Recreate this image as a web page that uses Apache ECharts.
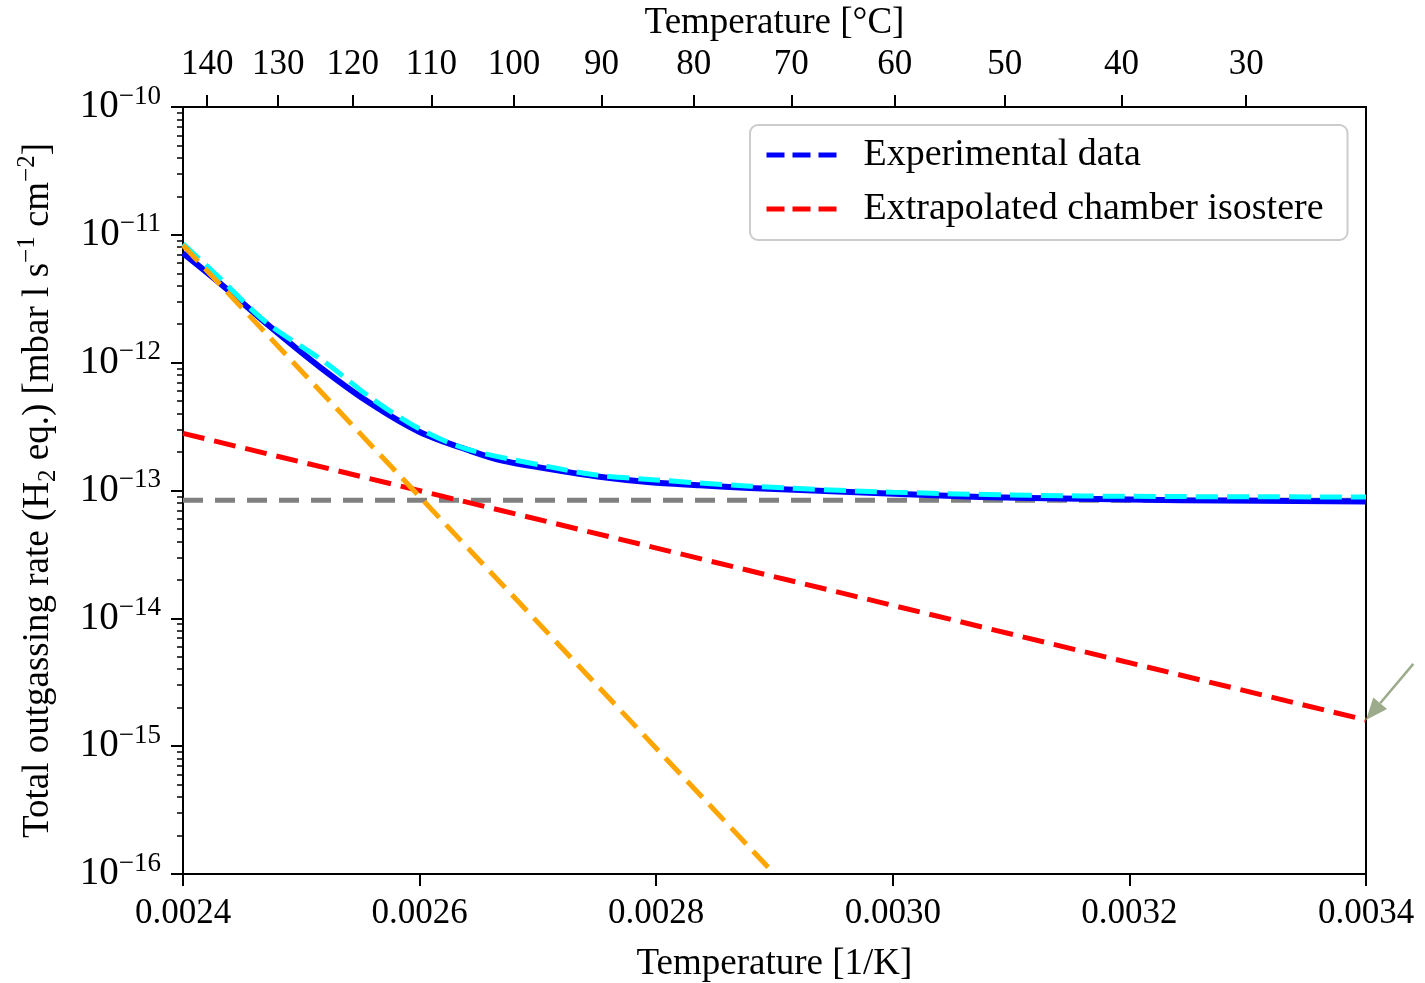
<!DOCTYPE html>
<html>
<head>
<meta charset="utf-8">
<script src="https://cdn.jsdelivr.net/npm/echarts@6/dist/echarts.min.js"></script>
<style>
  html, body { margin: 0; padding: 0; background: #fff; }
  #chart { width: 1425px; height: 983px; }
</style>
</head>
<body>
<div id="chart"></div>
<script>
// ---- data ----
var expX = [0.002400, 0.002431, 0.002474, 0.002516, 0.002558, 0.002600, 0.002643, 0.002668, 0.002710, 0.002752,
  0.002795, 0.002837, 0.002879, 0.002922, 0.003006, 0.003074, 0.003158, 0.003243, 0.003400];
var expY = [7.2e-12, 4.2e-12, 1.9e-12, 9.2e-13, 4.83e-13, 2.87e-13, 2.04e-13, 1.73e-13, 1.47e-13, 1.28e-13,
  1.16e-13, 1.10e-13, 1.045e-13, 1.01e-13, 9.4e-14, 8.9e-14, 8.6e-14, 8.4e-14, 8.2e-14];

// fit (cyan)
var fitX = [0.00240, 0.00243, 0.00247, 0.00252, 0.00256, 0.00260, 0.00264, 0.00271, 0.00275, 0.00280,
  0.00288, 0.00300, 0.00316, 0.00340];
var fitY = [8.5e-12, 4.7e-12, 2.08e-12, 1.01e-12, 5.2e-13, 3.03e-13, 2.11e-13, 1.53e-13, 1.32e-13, 1.21e-13,
  1.08e-13, 9.7e-14, 9.06e-14, 8.9e-14];

// extrapolated chamber isostere (red)
var isoX = [0.0024, 0.0034];
var isoY = [2.8e-13, 1.6e-15];

// orange isostere
var orangeX = [0.0024, 0.0029];
var orangeY = [8.3e-12, 1.0e-16];

// background level (gray)
var bgX = [0.0024, 0.0034];
var bgY = [8.4e-14, 8.4e-14];

// top axis ticks in °C
var celsiusTicks = [140, 130, 120, 110, 100, 90, 80, 70, 60, 50, 40, 30];

// arrow (annotation), start and tip in data coords
var arrowFrom = [0.00344, 4.4e-15];
var arrowTo = [0.0034, 1.6e-15];

var font = 'Liberation Serif';
var textColor = '#000';

function zip(xs, ys) {
  return xs.map(function (x, i) { return [x, ys[i]]; });
}

var topTickPos = celsiusTicks.map(function (c) { return 1 / (c + 273.15); });

// log minor ticks, in log10 space
var minorTicks = [];
for (var n = -16; n < -10; n++) {
  for (var k = 2; k <= 9; k++) minorTicks.push(n + Math.log10(k));
}

var chart = echarts.init(document.getElementById('chart'));

var option = {
  backgroundColor: '#fff',
  animation: false,
  grid: {
    left: 183, right: 59, top: 107, bottom: 109,
    containLabel: false, outerBoundsMode: 'none',
    show: true, borderColor: '#000', borderWidth: 2, backgroundColor: 'transparent'
  },
  legend: {
    left: 750, top: 125,
    orient: 'vertical',
    backgroundColor: '#fff',
    borderColor: '#cccccc', borderWidth: 2, borderRadius: 8,
    padding: [11, 24, 12, 14],
    itemWidth: 70, itemHeight: 14, itemGap: 16,
    itemStyle: { opacity: 0 },
    textStyle: { fontFamily: font, fontSize: 38, color: textColor, padding: [0, 0, 0, 22] },
    data: [
      { name: 'Experimental data', itemStyle: { opacity: 0 }, lineStyle: { type: [18, 8], width: 5 } },
      { name: 'Extrapolated chamber isostere', itemStyle: { opacity: 0 }, lineStyle: { type: [18, 8], width: 5 } }
    ]
  },
  xAxis: [{
    type: 'value',
    position: 'bottom',
    min: 0.0024, max: 0.0034, interval: 0.0002,
    name: 'Temperature [1/K]',
    nameLocation: 'middle', nameGap: 72,
    nameTextStyle: { fontFamily: font, fontSize: 37, color: textColor },
    axisLine: { show: true, lineStyle: { color: '#000', width: 2 } },
    axisTick: { show: true, length: 12, lineStyle: { color: '#000', width: 2 } },
    axisLabel: {
      fontFamily: font, fontSize: 35, color: textColor, margin: 22,
      formatter: function (v) { return v.toFixed(4); }
    },
    splitLine: { show: false }
  }, {
    type: 'value',
    position: 'top',
    min: 0.0024, max: 0.0034,
    name: 'Temperature [°C]',
    nameLocation: 'middle', nameGap: 63,
    nameTextStyle: { fontFamily: font, fontSize: 37, color: textColor },
    axisLine: { show: true, lineStyle: { color: '#000', width: 2 } },
    axisTick: { show: true, length: 12, customValues: topTickPos, lineStyle: { color: '#000', width: 2 } },
    axisLabel: {
      fontFamily: font, fontSize: 35, color: textColor, margin: 25,
      customValues: topTickPos,
      formatter: function (v) { return String(Math.round(1 / v - 273.15)); }
    },
    splitLine: { show: false }
  }],
  yAxis: [{
    type: 'log',
    logBase: 10,
    min: 1e-16, max: 1e-10,
    name: '{t|Total outgassing rate (H}{sub|2}{t| eq.) [mbar l s}{sup|−1}{t| cm}{sup|−2}{t|]}',
    nameLocation: 'middle', nameGap: 122, nameRotate: 90,
    nameTextStyle: {
      fontFamily: font, fontSize: 37, color: textColor,
      rich: {
        t: { fontFamily: font, fontSize: 37, color: textColor, lineHeight: 46 },
        sub: { fontFamily: font, fontSize: 25, color: textColor, verticalAlign: 'bottom', lineHeight: 25 },
        sup: { fontFamily: font, fontSize: 25, color: textColor, verticalAlign: 'top', lineHeight: 25 }
      }
    },
    axisLine: { show: true, lineStyle: { color: '#000', width: 2 } },
    axisTick: { show: true, length: 12, lineStyle: { color: '#000', width: 2 } },
    minorTick: { show: false },
    axisLabel: {
      margin: 22,
      formatter: function (v) {
        var e = Math.round(Math.log10(v));
        return '{b|10}{s|−' + Math.abs(e) + '}';
      },
      rich: {
        b: { fontFamily: font, fontSize: 39, color: textColor, lineHeight: 48 },
        s: { fontFamily: font, fontSize: 27, color: textColor, verticalAlign: 'top', lineHeight: 27 }
      }
    },
    splitLine: { show: false }
  }, {
    // minor ticks of the log axis
    type: 'value',
    position: 'left',
    min: -16, max: -10,
    axisLine: { show: false },
    axisTick: { show: true, length: 6, customValues: minorTicks, lineStyle: { color: '#000', width: 1.5 } },
    axisLabel: { show: false },
    splitLine: { show: false }
  }],
  series: [{
    name: 'Background',
    type: 'line',
    symbol: 'none',
    data: zip(bgX, bgY),
    lineStyle: { color: '#808080', width: 5, type: [20, 12] },
    z: 2
  }, {
    name: 'Experimental data',
    type: 'line',
    symbol: 'none',
    smooth: 0.3,
    data: zip(expX, expY),
    itemStyle: { color: '#0000ff' },
    lineStyle: { color: '#0000ff', width: 6 },
    z: 3
  }, {
    name: 'Fit',
    type: 'line',
    symbol: 'none',
    smooth: 0.3,
    data: zip(fitX, fitY),
    lineStyle: { color: '#00ffff', width: 5, type: [22, 9] },
    z: 4
  }, {
    name: 'Extrapolated chamber isostere',
    type: 'line',
    symbol: 'none',
    data: zip(isoX, isoY),
    itemStyle: { color: '#ff0000' },
    lineStyle: { color: '#ff0000', width: 5, type: [22, 10] },
    z: 5
  }, {
    name: 'Isostere',
    type: 'line',
    symbol: 'none',
    data: zip(orangeX, orangeY),
    lineStyle: { color: '#ffa500', width: 5, type: [22, 10] },
    z: 6
  }]
};

chart.setOption(option);

// arrow pointing at the end of the red isostere
var p0 = chart.convertToPixel({ xAxisIndex: 0, yAxisIndex: 0 }, arrowFrom);
var p1 = chart.convertToPixel({ xAxisIndex: 0, yAxisIndex: 0 }, arrowTo);
var ang = Math.atan2(p1[1] - p0[1], p1[0] - p0[0]);
var headLen = 22, headW = 9;
var bx = p1[0] - headLen * Math.cos(ang), by = p1[1] - headLen * Math.sin(ang);
var arrowColor = '#9cab8c';
chart.setOption({
  graphic: [{
    type: 'line',
    shape: { x1: p0[0], y1: p0[1], x2: bx, y2: by },
    style: { stroke: arrowColor, lineWidth: 2.5 },
    z: 100
  }, {
    type: 'polygon',
    shape: {
      points: [
        [p1[0], p1[1]],
        [bx - headW * Math.sin(ang), by + headW * Math.cos(ang)],
        [bx + headW * Math.sin(ang), by - headW * Math.cos(ang)]
      ]
    },
    style: { fill: arrowColor },
    z: 100
  }]
});
</script>
</body>
</html>
